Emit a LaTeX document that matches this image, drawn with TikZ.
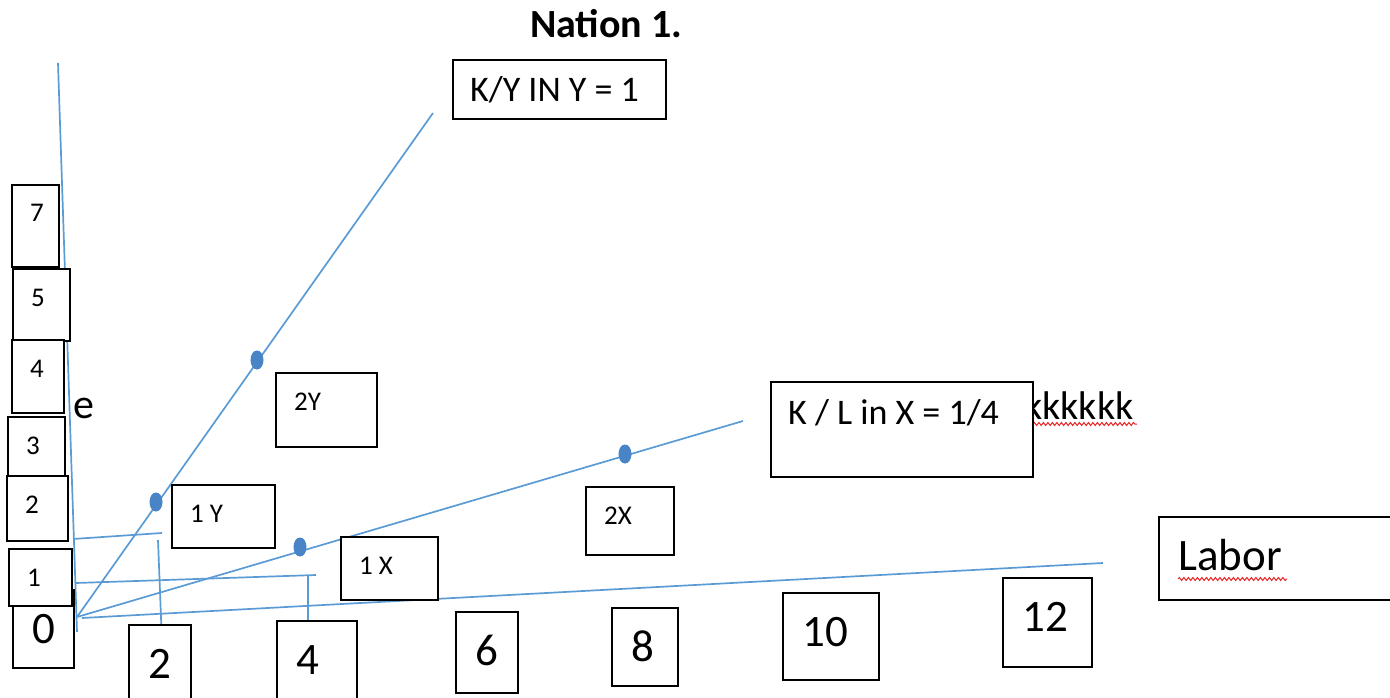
\documentclass[tikz,border=0pt]{standalone}
\usepackage{fontspec}
\setmainfont{Carlito}
\usepackage{xcolor}
\usepackage{tikz}
\usetikzlibrary{shapes.geometric, decorations.pathmorphing}
\definecolor{axisblue}{RGB}{91, 155, 213}
\definecolor{dotblue}{RGB}{72, 132, 198}
\definecolor{spellred}{RGB}{235, 40, 40}
\newcommand{\fsm}{\fontsize{27}{32}\selectfont}
\newcommand{\fmd}{\fontsize{36}{42}\selectfont}
\newcommand{\flg}{\fontsize{45}{54}\selectfont}

\begin{document}
\begin{tikzpicture}[
    x=1pt, y=-1pt,
    box/.style={draw=black, line width=2pt, fill=white, anchor=north west,
                inner sep=0pt, outer sep=0pt},
    sm/.style={label={[anchor=base west, inner sep=0pt, xshift=18pt, yshift=-37pt, font=\fsm]north west:#1}},
    md/.style={label={[anchor=base west, inner sep=0pt, xshift=17pt, yshift=-42pt, font=\fmd]north west:#1}},
    lg/.style={label={[anchor=base west, inner sep=0pt, xshift=19pt, yshift=-53pt, font=\flg]north west:#1}},
    axis/.style={draw=axisblue, line width=1.7pt},
    dot/.style={ellipse, fill=dotblue, minimum width=13pt, minimum height=19pt, inner sep=0pt},
    squig/.style={draw=spellred, line width=1pt, decorate,
                  decoration={snake, amplitude=1.5pt, segment length=4.5pt}}
]
    \useasboundingbox (0,0) rectangle (1390,698);

    % axes and rays
    \coordinate (O) at (77,617);
    \coordinate (ytop) at (58,63);
    \coordinate (yend) at (77,632);
    \coordinate (lstart) at (82,618);
    \coordinate (lend) at (1103,563);
    \coordinate (kyend) at (433,113);
    \coordinate (klend) at (743,421);
    \draw[axis] (ytop) -- (yend);
    \draw[axis] (lstart) -- (lend);
    \draw[axis] (O) -- (kyend);
    \draw[axis] (O) -- (klend);

    % guide lines to the axes
    \coordinate (g1a) at (73,539);
    \coordinate (g1b) at (162,533);
    \coordinate (g1c) at (158,540);
    \coordinate (g1d) at (162,643);
    \coordinate (g2a) at (76,583);
    \coordinate (g2b) at (316,575);
    \coordinate (g2c) at (308,575);
    \coordinate (g2d) at (308,639);
    \draw[axis] (g1a) -- (g1b);
    \draw[axis] (g1c) -- (g1d);
    \draw[axis] (g2a) -- (g2b);
    \draw[axis] (g2c) -- (g2d);

    \node[dot] (d1y) at (156,502) {};
    \node[dot] (d2y) at (257,360) {};
    \node[dot] (d1x) at (300,547) {};
    \node[dot] (d2x) at (625,454) {};

    \node[font=\bfseries\fontsize{40}{46}\selectfont, anchor=base west, inner sep=0pt] (title) at (530,38) {Nation 1.};
    \node[font=\fontsize{42}{48}\selectfont, anchor=base west, inner sep=0pt] (e) at (73,418) {e};
    \node[font=\fontsize{40}{46}\selectfont, anchor=base west, inner sep=0pt] (kk) at (1024,419) {kkkkkk};
    \draw[squig] (1033,424) -- (1137,424);

    % capital axis
    \node[box, minimum width=47, minimum height=82, sm=7] (v7) at (12,185) {};
    \node[box, minimum width=57, minimum height=72, sm=5] (v5) at (13,269) {};
    \node[box, minimum width=52, minimum height=73, sm=4] (v4) at (12,340) {};
    \node[box, minimum width=57, minimum height=60, sm=3] (v3) at (8,417) {};
    \node[box, minimum width=61, minimum height=65, sm=2] (v2) at (7,476) {};
    \node[box, minimum width=61, minimum height=78, lg=0] (v0) at (13,590) {};
    \node[box, minimum width=63, minimum height=57, sm=1] (v1) at (9,549) {};

    % labor axis
    \node[box, minimum width=62, minimum height=85, lg=2] (h2) at (129,625) {};
    \node[box, minimum width=80, minimum height=85, lg=4] (h4) at (277,621) {};
    \node[box, minimum width=62, minimum height=81, lg=6] (h6) at (456,612) {};
    \node[box, minimum width=66, minimum height=78, lg=8] (h8) at (612,608) {};
    \node[box, minimum width=96, minimum height=87, lg=10] (h10) at (783,593) {};
    \node[box, minimum width=89, minimum height=89, lg=12] (h12) at (1003,578) {};
    \node[box, minimum width=240, minimum height=83, lg=Labor] (labor) at (1159,517) {};
    \draw[squig] (1178,579) -- (1287,579);

    % goods
    \node[box, minimum width=103, minimum height=63, sm=1 Y] (b1y) at (172,485) {};
    \node[box, minimum width=101, minimum height=74, sm=2Y] (b2y) at (276,373) {};
    \node[box, minimum width=97, minimum height=63, sm=1 X] (b1x) at (341,537) {};
    \node[box, minimum width=88, minimum height=68, sm=2X] (b2x) at (586,487) {};
    \node[box, minimum width=213, minimum height=59, md={K/Y IN Y = 1}] (kyin) at (453,60) {};
    \node[box, minimum width=262, minimum height=95, md={K / L in X = 1/4}] (klin) at (771,382) {};
\end{tikzpicture}
\end{document}
